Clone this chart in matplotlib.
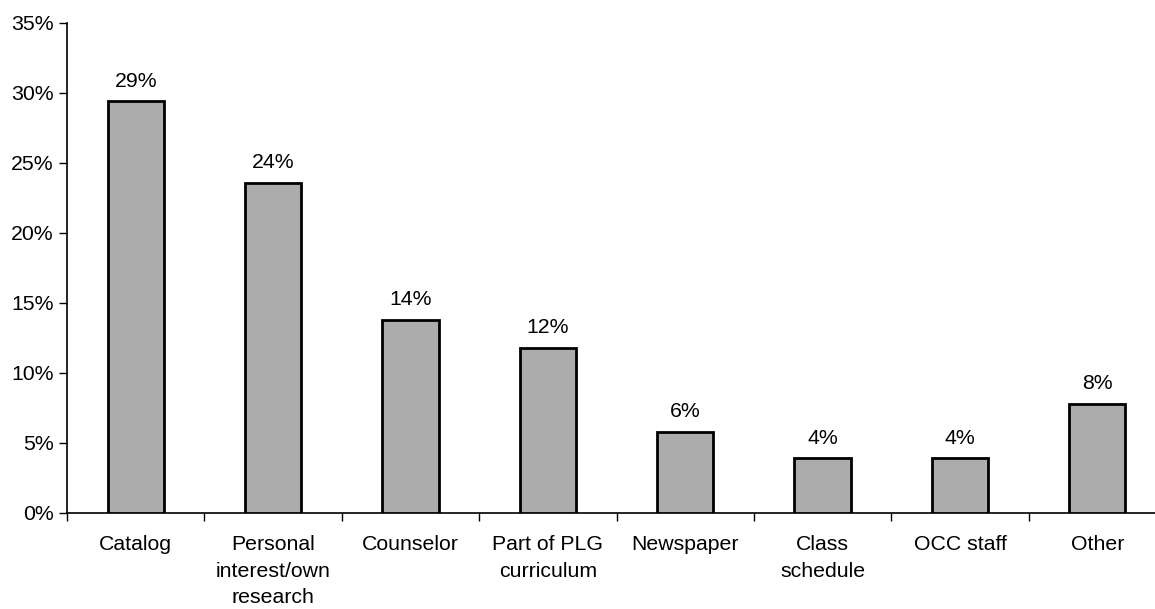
import matplotlib
matplotlib.use("Agg")
import matplotlib.pyplot as plt
from matplotlib.ticker import FixedLocator, NullFormatter

categories = ["Catalog", "Personal\ninterest/own\nresearch", "Counselor",
              "Part of PLG\ncurriculum", "Newspaper", "Class\nschedule",
              "OCC staff", "Other"]
values = [29.4, 23.6, 13.8, 11.8, 5.8, 3.9, 3.9, 7.8]
labels = ["29%", "24%", "14%", "12%", "6%", "4%", "4%", "8%"]
yticks = [0, 5, 10, 15, 20, 25, 30, 35]
ytick_labels = ["0%", "5%", "10%", "15%", "20%", "25%", "30%", "35%"]

plt.rcParams['font.family'] = ['Liberation Sans', 'DejaVu Sans']

W, H = 1155, 609
fig = plt.figure(figsize=(W / 100, H / 100), dpi=100)
left, right, top, bottom = 67, 1166, 23, 513
ax = fig.add_axes([left / W, 1 - bottom / H, (right - left) / W, (bottom - top) / H])

x = list(range(len(categories)))
ax.bar(x, values, width=0.41, color="#acacac", edgecolor="black", linewidth=2, zorder=3)
for xi, v, lab in zip(x, values, labels):
    ax.text(xi, v + 0.75, lab, ha="center", va="bottom", fontsize=15.3)

ax.set_xlim(-0.5, len(categories) - 0.5)
ax.set_ylim(0, 35)
ax.set_yticks(yticks)
ax.set_yticklabels(ytick_labels, fontsize=15.3)
ax.xaxis.set_major_locator(FixedLocator([i - 0.5 for i in range(len(categories) + 1)]))
ax.xaxis.set_major_formatter(NullFormatter())
ax.xaxis.set_minor_locator(FixedLocator(x))
ax.set_xticklabels(categories, minor=True, fontsize=15.3, linespacing=1.5, va="top")
ax.tick_params(axis="x", which="minor", length=0, pad=16)
ax.tick_params(axis="x", which="major", length=6, width=1, direction="out")
ax.tick_params(axis="y", length=6, width=1, direction="out", pad=3.5)
for s in ["top", "right"]:
    ax.spines[s].set_visible(False)
ax.spines["left"].set_linewidth(1.2)
ax.spines["bottom"].set_linewidth(1.2)

fig.savefig("out.png", dpi=100)
